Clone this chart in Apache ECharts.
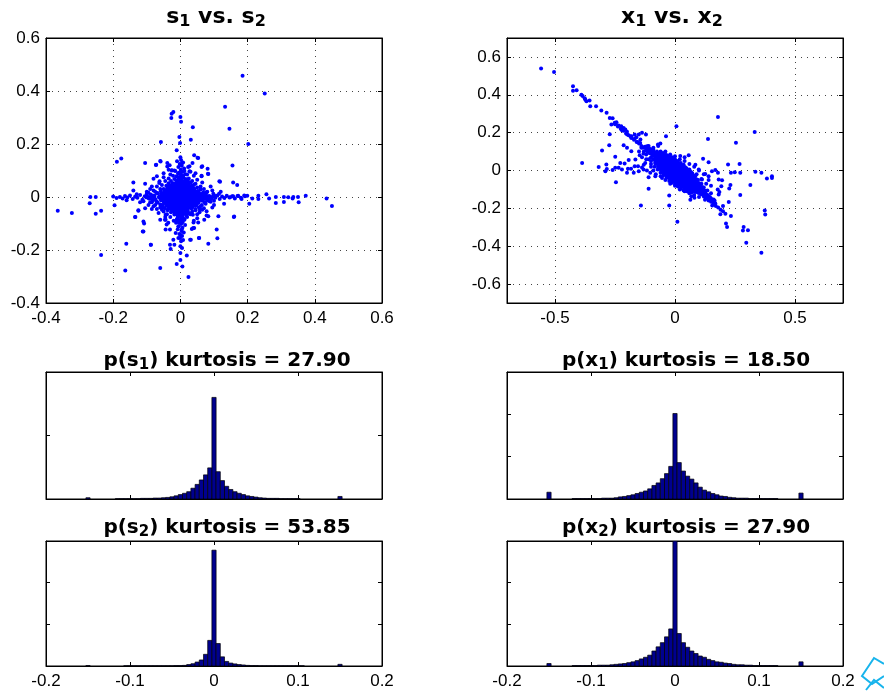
<!DOCTYPE html>
<html>
<head>
<meta charset="utf-8">
<title>ICA sources vs. mixtures</title>
<script src="https://cdn.jsdelivr.net/npm/echarts@6/dist/echarts.min.js"></script>
<style>
  html, body { margin: 0; padding: 0; background: #fff; }
  #chart { width: 884px; height: 692px; }
</style>
</head>
<body>
<div id="chart"></div>
<script>
// ---------- data ----------

// s1 vs. s2 scatter
const s1s2Outliers = [
  [0.185,0.458],[0.251,0.391],[0.133,0.341],[0.146,0.258],[0.202,0.2],[0.155,0.119],[-0.026,0.314],[-0.021,0.321],
  [-0.027,0.298],[0.0,0.302],[0.002,0.284],[0.037,0.263],[0.031,0.216],[-0.058,0.208],[-0.003,0.226],[-0.001,0.204],
  [-0.011,0.176],[0.041,0.158],[0.051,0.148],[-0.189,0.133],[-0.176,0.145],[-0.105,0.128],[-0.073,0.121],[-0.06,0.136],
  [0.065,0.116],[0.081,0.107],[0.082,0.088],[0.116,0.059],[0.157,0.055],[0.169,0.045],[0.063,0.08],[-0.14,0.055],
  [-0.105,0.05],[-0.08,0.069],
  [-0.365,-0.052],[-0.323,-0.06],[-0.268,0],[-0.27,-0.024],[-0.252,0],[-0.252,-0.063],[-0.236,-0.052],[-0.236,-0.219],
  [0.148,-0.001],[0.157,0.003],[0.172,0.005],[0.182,-0.008],[0.192,0.003],[0.199,0.005],[0.214,-0.006],[0.232,0.005],
  [0.232,-0.008],[0.256,0.01],[0.264,-0.006],[0.284,0],[0.284,-0.023],[0.308,0],[0.308,-0.019],[0.321,-0.001],
  [0.334,-0.006],[0.336,0],[0.352,-0.02],[0.35,0],[0.373,0.005],[0.435,-0.006],[0.451,-0.034],[0.205,-0.025],
  [-0.014,-0.136],[-0.018,-0.18],[-0.029,-0.196],[0,-0.186],[0.005,-0.192],[0,-0.211],[0.019,-0.221],[0,-0.238],
  [-0.011,-0.253],[0.006,-0.262],[0.024,-0.302],[-0.06,-0.268],[-0.164,-0.277],[-0.161,-0.176],[-0.088,-0.18],[0.083,-0.176],
  [0.055,-0.155],[0.031,-0.161],[0.108,-0.123],[0.113,-0.073],[0.16,-0.074],[-0.11,-0.13],[-0.108,-0.1],[-0.134,-0.075],
  [-0.125,-0.052],[-0.021,-0.161],[0.034,-0.121],[0.041,-0.117],[-0.044,-0.123],[-0.196,-0.031]
];
const s1s2Core = [
  [-0.01,0.06],[0.002,0.062],[0.012,0.058],
  [-0.022,0.05],[-0.01,0.051],[0.001,0.049],[0.011,0.05],[0.022,0.052],
  [-0.03,0.04],[-0.019,0.041],[-0.008,0.039],[0.003,0.04],[0.014,0.042],[0.025,0.039],[0.034,0.04],
  [-0.038,0.03],[-0.027,0.031],[-0.016,0.029],[-0.005,0.03],[0.006,0.031],[0.017,0.029],[0.028,0.03],[0.039,0.031],
  [-0.045,0.02],[-0.034,0.021],[-0.023,0.019],[-0.012,0.02],[-0.001,0.021],[0.01,0.019],[0.021,0.02],[0.032,0.021],[0.043,0.019],[0.052,0.02],
  [-0.055,0.01],[-0.044,0.011],[-0.033,0.009],[-0.022,0.01],[-0.011,0.011],[0,0.009],[0.011,0.01],[0.022,0.011],[0.033,0.009],[0.044,0.01],[0.055,0.011],[0.064,0.009],
  [-0.062,0],[-0.051,0.001],[-0.04,-0.001],[-0.029,0],[-0.018,0.001],[-0.007,-0.001],[0.004,0],[0.015,0.001],[0.026,-0.001],[0.037,0],[0.048,0.001],[0.059,-0.001],[0.07,0],
  [-0.056,-0.01],[-0.045,-0.009],[-0.034,-0.011],[-0.023,-0.01],[-0.012,-0.009],[-0.001,-0.011],[0.01,-0.01],[0.021,-0.009],[0.032,-0.011],[0.043,-0.01],[0.054,-0.009],[0.065,-0.011],
  [-0.047,-0.02],[-0.036,-0.019],[-0.025,-0.021],[-0.014,-0.02],[-0.003,-0.019],[0.008,-0.021],[0.019,-0.02],[0.03,-0.019],[0.041,-0.021],[0.052,-0.02],
  [-0.04,-0.03],[-0.029,-0.031],[-0.018,-0.029],[-0.007,-0.03],[0.004,-0.031],[0.015,-0.029],[0.026,-0.03],[0.037,-0.031],[0.046,-0.029],
  [-0.033,-0.04],[-0.022,-0.041],[-0.011,-0.039],[0,-0.04],[0.011,-0.041],[0.022,-0.039],[0.033,-0.04],
  [-0.024,-0.05],[-0.013,-0.051],[-0.002,-0.049],[0.009,-0.05],[0.02,-0.051],
  [-0.015,-0.06],[-0.004,-0.061],[0.007,-0.059],[0.016,-0.06],
  [-0.006,-0.07],[0.005,-0.071],
  [-0.004,0.072],[0.006,0.078],[-0.002,0.09],[0.004,-0.082],[-0.003,-0.094],
  [-0.08,0.002],[-0.09,-0.003],[-0.1,0.001],[0.08,0.001],[0.09,-0.002],[0.1,0.003]
];
const s1s2Arms = [
  [-0.2,0.002],[-0.19,-0.004],[-0.18,0],[-0.172,-0.006],[-0.165,0.004],[-0.158,-0.002],[-0.15,0.006],[-0.142,-0.008],
  [-0.135,0.001],[-0.128,-0.003],[-0.12,0.008],[-0.113,-0.01],[-0.106,0.003],[-0.1,0.012],[-0.094,-0.006],[-0.088,0.009],
  [-0.082,-0.012],[-0.077,0.005],[-0.072,-0.015],[-0.067,0.014],[-0.16,-0.012],[-0.13,0.01],[-0.11,-0.016],[-0.095,0.016],
  [-0.085,-0.02],[-0.075,0.02],[-0.07,-0.022],
  [0.075,0.01],[0.08,-0.012],[0.086,0.004],[0.092,-0.006],[0.098,0.012],[0.104,-0.003],[0.11,0.006],[0.117,-0.008],
  [0.124,0.002],[0.131,-0.004],[0.138,0.005],[0.146,-0.002],[0.154,0.003],[0.162,-0.006],[0.17,0.004],[0.18,-0.003],
  [0.19,0.006],[0.078,0.018],[0.09,-0.018],[0.1,-0.014],[0.115,0.012],
  [-0.004,0.07],[0.008,0.074],[-0.012,0.078],[0.003,0.082],[0.014,0.086],[-0.007,0.09],[0.006,0.095],[-0.015,0.098],
  [0.001,0.103],[0.011,0.108],[-0.006,0.113],[0.004,0.118],[-0.002,0.125],[0.008,0.13],[-0.01,0.135],[0.002,0.14],
  [0,0.15],[0.005,0.128],[-0.018,0.1],[0.012,0.098],[0.02,0.085],[-0.022,0.08],[0.016,0.068],
  [0.003,-0.075],[-0.009,-0.08],[0.012,-0.083],[-0.002,-0.088],[0.007,-0.093],[-0.013,-0.097],[0.002,-0.102],[0.014,-0.106],
  [-0.005,-0.11],[0.006,-0.116],[-0.008,-0.122],[0.003,-0.128],[0.01,-0.134],[-0.003,-0.14],[0.005,-0.147],[-0.001,-0.155],
  [0.008,-0.162]
];
const s1s2Spread = [
  [-0.044,-0.067],[-0.044,-0.086],[-0.036,-0.097],[-0.011,-0.086],[0.005,-0.096],[0.012,-0.086],[-0.006,-0.111],[0.004,-0.123],
  [0,-0.142],[-0.006,-0.155],[0.002,-0.167],[0.024,-0.06],[0.037,-0.067],[0.039,-0.096],[0.057,-0.058],[0.065,-0.048],
  [0.07,-0.042],[0.071,-0.086],[0.083,-0.073],[-0.08,-0.035],[-0.07,-0.045],[-0.055,-0.048],[-0.06,-0.086],[-0.041,-0.104],
  [-0.031,-0.123],[-0.039,0.128],[-0.032,0.12],[-0.035,0.103],[-0.026,0.101],[0.027,0.116],[0.027,0.097],[-0.07,0.078],
  [-0.062,0.059],[-0.059,0.134],[-0.072,0.122],[-0.039,0.115],[-0.063,0.053],[0.023,0.113],[0.053,0.147],[0.063,0.113],
  [0.083,0.087],[0.118,0.058],[0.063,0.078],[0.036,0.128],[-0.105,-0.042],[-0.125,-0.05],[-0.135,-0.075],[-0.11,-0.092],
  [-0.112,-0.13],[-0.088,-0.18],[-0.046,-0.086],[0.058,-0.048],[0.078,-0.054],[0.078,-0.07],[0.11,-0.156],[0.159,-0.075],
  [0.053,-0.096],[0.038,-0.117],[0.029,-0.161],[0.056,-0.155],[-0.031,-0.18],
  [-0.06,0.03],[-0.07,0.04],[-0.055,0.045],[-0.045,0.06],[-0.035,0.07],[-0.03,0.085],[-0.05,0.09],[-0.025,0.1],
  [0.025,0.07],[0.035,0.06],[0.045,0.05],[0.06,0.04],[0.07,0.03],[0.08,0.02],[0.05,0.065],[0.04,0.08],
  [0.03,0.095],[-0.08,0.025],[-0.09,-0.02],[-0.075,-0.03],[-0.06,-0.04],[-0.05,-0.055],[-0.04,-0.065],[-0.03,-0.075],
  [-0.02,-0.09],[0.02,-0.075],[0.03,-0.065],[0.045,-0.05],[0.06,-0.035],[0.075,-0.025],[0.085,-0.015],[0.095,0.025],
  [0.05,-0.08],[0.04,-0.09],[-0.065,-0.06],[-0.085,0.04],[0.1,-0.03],[0.065,0.055],[-0.1,0.02],[-0.095,-0.03],
  [-0.07,0.015],[-0.075,-0.008],[-0.068,-0.02],[-0.06,-0.028],[-0.052,-0.036],[-0.05,0.03],[-0.058,0.022],[-0.042,0.042],
  [-0.035,0.052],[-0.028,0.06],[-0.018,0.068],[0.022,0.062],[0.03,0.055],[0.04,0.046],[0.05,0.036],[0.06,0.028],
  [0.068,0.018],[0.075,-0.006],[0.072,-0.02],[0.064,-0.03],[0.055,-0.04],[0.045,-0.045],[0.035,-0.055],[0.026,-0.062],
  [0.018,-0.07],[-0.018,-0.066],[-0.028,-0.058],[-0.038,-0.05],[-0.046,-0.042],[-0.054,-0.03],
  [-0.09,0.03],[-0.085,-0.045],[0.09,0.04],[0.095,-0.04],[-0.05,0.075],[0.045,0.09],[-0.045,-0.075],[0.05,-0.065],
  [0.12,0.02],[-0.12,-0.02],[0.13,-0.025],[-0.14,0.025]
];

// x1 vs. x2 scatter
const x1x2Outliers = [
  [-0.558,0.539],[-0.504,0.521],[-0.425,0.445],[-0.425,0.421],[-0.41,0.424],[-0.39,0.4],[-0.385,0.393],[-0.374,0.375],
  [-0.376,0.382],[-0.369,0.366],[-0.356,0.37],[-0.353,0.34],[-0.329,0.34],[-0.307,0.317],[-0.285,0.305],[-0.272,0.278],
  [-0.26,0.276],[-0.265,0.243],[-0.251,0.252],[-0.244,0.255],[-0.235,0.238],[-0.224,0.234],[-0.214,0.225],[-0.221,0.213],
  [-0.207,0.217],[-0.199,0.19],[-0.182,0.181],[-0.168,0.19],[-0.151,0.19],[-0.1375,0.199],[-0.121,0.19],[-0.161,0.176],
  [-0.144,0.164],
  [-0.272,0.192],[-0.274,0.134],[-0.304,0.106],[-0.387,0.04],[-0.318,0.018],[-0.286,0.032],[-0.29,-0.004],[-0.284,0.008],
  [-0.246,-0.062],[-0.249,0.072],[-0.228,0.04],[-0.214,0.134],[-0.142,-0.185],[-0.11,-0.097],[-0.0375,0.181],[0.006,0.234],
  [-0.024,-0.132],[-0.024,-0.185],[0.01,-0.271],[0.179,0.283],[0.1375,0.167],[0.332,0.204],[0.254,0.146],[0.221,0.032],
  [0.233,-0.012],[0.249,-0.009],[0.269,0.035],[0.272,-0.012],[0.335,-0.007],[0.36,-0.012],[0.383,-0.042],[0.404,-0.039],
  [0.404,-0.03],[0.314,-0.076],[0.272,-0.13],[0.231,-0.076],[0.226,-0.095],[0.224,-0.167],[0.189,-0.231],[0.2125,-0.28],
  [0.217,-0.299],[0.233,-0.241],[0.286,-0.299],[0.283,-0.317],[0.304,-0.315],[0.297,-0.382],[0.36,-0.435],[0.374,-0.211],
  [0.376,-0.232],[-0.096,0.093],[-0.071,0.137],[-0.061,0.143]
];
const x1x2Band = [
  [-0.25,0.245],[-0.238,0.232],[-0.226,0.22],[-0.215,0.21],[-0.204,0.196],[-0.193,0.186],[-0.182,0.172],[-0.171,0.163],
  [-0.16,0.15],[-0.15,0.142],[-0.14,0.13],[-0.13,0.122],[-0.12,0.11],[-0.11,0.1],[-0.1,0.092],[-0.09,0.08],
  [-0.2,0.205],[-0.185,0.18],[-0.168,0.168],[-0.155,0.15],[-0.145,0.145],[-0.135,0.122],[-0.125,0.125],[-0.115,0.1],
  [-0.105,0.105],[-0.095,0.09],[-0.085,0.095],[-0.075,0.075],[-0.07,0.09],[-0.06,0.065],[-0.09,0.06],[-0.1,0.07],
  [0.08,-0.1],[0.09,-0.105],[0.1,-0.118],[0.11,-0.125],[0.12,-0.137],[0.13,-0.145],[0.14,-0.158],[0.15,-0.165],
  [0.16,-0.176],[0.17,-0.188],[0.18,-0.196],[0.19,-0.208],[0.2,-0.215],[0.21,-0.228],[0.135,-0.13],[0.125,-0.155],
  [0.145,-0.14],[0.165,-0.16],[0.155,-0.185]
];
const x1x2Core = [
  [-0.08,0.04],[-0.08,0.055],[-0.08,0.07],[-0.08,0.085],
  [-0.068,0.02],[-0.068,0.035],[-0.068,0.05],[-0.068,0.065],[-0.068,0.08],
  [-0.056,0.005],[-0.056,0.02],[-0.056,0.035],[-0.056,0.05],[-0.056,0.065],[-0.056,0.08],
  [-0.044,-0.01],[-0.044,0.005],[-0.044,0.02],[-0.044,0.035],[-0.044,0.05],[-0.044,0.065],[-0.044,0.08],
  [-0.032,-0.025],[-0.032,-0.01],[-0.032,0.005],[-0.032,0.02],[-0.032,0.035],[-0.032,0.05],[-0.032,0.065],
  [-0.02,-0.04],[-0.02,-0.025],[-0.02,-0.01],[-0.02,0.005],[-0.02,0.02],[-0.02,0.035],[-0.02,0.05],[-0.02,0.065],
  [-0.008,-0.05],[-0.008,-0.035],[-0.008,-0.02],[-0.008,-0.005],[-0.008,0.01],[-0.008,0.025],[-0.008,0.04],[-0.008,0.055],
  [0.004,-0.06],[0.004,-0.045],[0.004,-0.03],[0.004,-0.015],[0.004,0],[0.004,0.015],[0.004,0.03],[0.004,0.045],
  [0.016,-0.07],[0.016,-0.055],[0.016,-0.04],[0.016,-0.025],[0.016,-0.01],[0.016,0.005],[0.016,0.02],[0.016,0.035],
  [0.028,-0.08],[0.028,-0.065],[0.028,-0.05],[0.028,-0.035],[0.028,-0.02],[0.028,-0.005],[0.028,0.01],[0.028,0.025],
  [0.04,-0.09],[0.04,-0.075],[0.04,-0.06],[0.04,-0.045],[0.04,-0.03],[0.04,-0.015],[0.04,0],[0.04,0.015],
  [0.052,-0.095],[0.052,-0.08],[0.052,-0.065],[0.052,-0.05],[0.052,-0.035],[0.052,-0.02],[0.052,-0.005],
  [0.064,-0.1],[0.064,-0.085],[0.064,-0.07],[0.064,-0.055],[0.064,-0.04],[0.064,-0.025],[0.064,-0.01],
  [0.076,-0.105],[0.076,-0.09],[0.076,-0.075],[0.076,-0.06],[0.076,-0.045],[0.076,-0.03],
  [0.088,-0.11],[0.088,-0.095],[0.088,-0.08],[0.088,-0.065],[0.088,-0.05],
  [0.1,-0.115],[0.1,-0.1],[0.1,-0.085],[0.1,-0.07],
  [0.112,-0.12],[0.112,-0.105],[0.112,-0.09],
  [0.124,-0.125],[0.124,-0.11],
  [-0.092,0.085],[-0.092,0.1],[-0.104,0.095],[-0.104,0.11],[-0.116,0.11],[-0.116,0.125],
  [0.136,-0.135],[0.148,-0.15],[0.16,-0.16]
];
const x1x2Spread = [
  [-0.2,0.12],[-0.182,0.102],[-0.193,0.055],[-0.196,0.009],[-0.221,0.005],[-0.235,0.014],[-0.26,0.002],[-0.249,0.014],
  [-0.2,-0.012],[-0.183,0.009],[-0.168,0.023],[-0.154,0.023],[-0.1375,0.016],[-0.124,0.04],[-0.117,0],[-0.11,-0.035],
  [-0.082,-0.03],[-0.054,-0.039],[-0.147,0.081],[-0.1375,0.07],[-0.131,0.09],[-0.165,0.058],[-0.21,0.037],[-0.172,-0.012],
  [-0.151,-0.004],[-0.103,-0.012],[-0.131,0.005],
  [0.022,0.076],[0.04,0.07],[0.057,0.081],[0.117,0.062],[0.14,0.044],[0.085,0.03],[0.064,-0.155],[0.081,-0.144],
  [0.068,-0.136],[0.099,-0.083],[0.126,-0.109],[0.154,-0.004],[0.168,0.002],[0.179,-0.012],[0.182,-0.048],[0.193,-0.083],
  [0.178,-0.1],[0.185,-0.114],[0.182,-0.127],[0.196,-0.051],[0.14,-0.03],[0.1125,-0.048],[0.126,-0.018],[0.099,0.005],
  [0.085,-0.048],[0.161,-0.153],[0.168,-0.174],[0.147,-0.148],[0.2,-0.188],
  [-0.1,0.02],[-0.09,0],[-0.1,0.05],[-0.08,-0.02],[-0.06,-0.03],[-0.04,-0.05],[-0.02,-0.07],[0,-0.08],
  [0.02,-0.1],[0.04,-0.11],[0.06,-0.12],[0.08,-0.13],[0.1,-0.14],[-0.06,0.1],[-0.04,0.1],[-0.02,0.085],
  [0,0.075],[0.02,0.06],[0.04,0.05],[0.06,0.035],[0.08,0.02],[0.1,0],[0.12,-0.02],[0.14,-0.05],
  [0.15,-0.08],[0.13,-0.07],[0.11,-0.045],[0.09,-0.02],[-0.12,0.06],[-0.13,0.03],[-0.15,0.1],[-0.11,0.13],
  [-0.09,0.12],[-0.07,0.13],
  [-0.1,0.035],[-0.11,0.06],[-0.12,0.085],[-0.13,0.1],[-0.14,0.12],[-0.085,0.02],[-0.072,0.005],[-0.06,-0.012],
  [-0.048,-0.025],[-0.036,-0.04],[-0.024,-0.055],[-0.012,-0.065],[0,-0.075],[0.012,-0.085],[0.024,-0.095],[0.036,-0.105],
  [0.05,-0.11],[0.07,-0.115],[-0.09,0.11],[-0.075,0.1],[-0.062,0.095],[-0.05,0.092],[-0.036,0.082],[-0.024,0.078],
  [-0.012,0.07],[0,0.06],[0.012,0.05],[0.024,0.04],[0.036,0.03],[0.048,0.012],[0.06,0.005],[0.072,-0.015],
  [0.084,-0.03],[0.096,-0.05],[0.11,-0.07],[0.12,-0.09],[0.135,-0.105],[0.15,-0.12]
];

// histograms: bin centres and counts
const binCenters = [
  -0.15,-0.145,-0.14,-0.135,-0.13,-0.125,-0.12,-0.115,-0.11,-0.105,-0.1,-0.095,-0.09,-0.085,-0.08,-0.075,
  -0.07,-0.065,-0.06,-0.055,-0.05,-0.045,-0.04,-0.035,-0.03,-0.025,-0.02,-0.015,-0.01,-0.005,0,
  0.005,0.01,0.015,0.02,0.025,0.03,0.035,0.04,0.045,0.05,0.055,0.06,0.065,0.07,0.075,
  0.08,0.085,0.09,0.095,0.1,0.105,0.11,0.115,0.12,0.125,0.13,0.135,0.14,0.145,0.15
];
const BIN_WIDTH = 0.005;
const histS1 = [4,0,0,0,0,0,0,1,1,1,1,1,1,2,2,2,3,3,4,5,7,10,14,18,23,34,46,60,76,98,320,
  86,58,40,30,23,18,14,10,8,6,4,3,2,2,2,1,1,1,1,1,0,0,0,0,0,0,0,0,0,8];
const histX1 = [16,0,0,0,0,0,1,1,1,1,1,1,1,2,2,2,3,5,6,8,10,13,16,19,24,32,38,48,60,77,202,
  86,66,54,47,38,28,21,17,13,10,7,6,4,3,2,2,2,1,1,1,1,1,1,1,0,0,0,0,0,14];
const histS2 = [2,0,0,0,0,0,0,0,0,1,1,1,1,1,1,1,1,1,1,1,1,2,2,3,7,11,19,29,56,123,556,
  108,44,22,14,10,7,5,3,2,2,1,1,1,1,1,1,1,1,1,1,1,0,0,0,0,0,0,0,0,8];
const histX2 = [6,0,0,0,0,0,1,1,1,1,1,1,2,2,2,3,4,5,6,8,10,13,17,21,26,36,46,56,70,89,300,
  78,56,45,36,30,24,21,16,13,10,9,7,6,4,3,3,2,2,1,1,1,1,1,1,0,0,0,0,0,10];

// tick values
const x1x2XTicks = [-0.5, 0, 0.5];
const x1x2YTicks = [-0.6, -0.4, -0.2, 0, 0.2, 0.4, 0.6];

// ---------- chart ----------
const LABEL_FONT = '"Liberation Sans", Arial, sans-serif';
const TITLE_FONT = '"DejaVu Sans", sans-serif';
const DOT_BLUE = '#0000ff';
const BAR_BLUE = '#00008f';

const boxes = [
  { left: 46, top: 38, width: 336, height: 265 },
  { left: 507, top: 38, width: 336, height: 265 },
  { left: 46, top: 372, width: 336, height: 127 },
  { left: 507, top: 372, width: 336, height: 127 },
  { left: 46, top: 541, width: 336, height: 125 },
  { left: 507, top: 541, width: 336, height: 125 }
];

const tick = { show: true, inside: true, length: 4, lineStyle: { color: '#000', width: 1 } };
const line = { show: true, onZero: false, lineStyle: { color: '#000', width: 1 } };
const dotted = { color: '#444', width: 1, type: [1, 5] };

// one pair of axes (bottom/top or left/right) for a grid
function axisPair(dim, gridIndex, opt) {
  const sides = dim === 'x' ? ['bottom', 'top'] : ['left', 'right'];
  return sides.map((pos, i) => {
    const ax = {
      gridIndex, type: 'value', position: pos,
      min: opt.min, max: opt.max,
      axisLine: line,
      axisTick: Object.assign({}, tick),
      axisLabel: {
        show: i === 0 && !!opt.labels, color: '#000', fontSize: 17,
        fontFamily: LABEL_FONT, margin: dim === 'x' ? 7 : 6
      },
      splitLine: { show: i === 0 && !!opt.grid, lineStyle: dotted }
    };
    if (opt.interval) ax.interval = opt.interval;
    if (opt.ticks) {
      ax.axisTick.customValues = opt.ticks;
      ax.axisLabel.customValues = opt.ticks;
    }
    return ax;
  });
}

const xAxis = [].concat(
  axisPair('x', 0, { min: -0.4, max: 0.6, interval: 0.2, labels: true, grid: true }),
  axisPair('x', 1, { min: -0.7, max: 0.7, ticks: x1x2XTicks, labels: true, grid: true }),
  axisPair('x', 2, { min: -0.2, max: 0.2, interval: 0.1 }),
  axisPair('x', 3, { min: -0.2, max: 0.2, interval: 0.1 }),
  axisPair('x', 4, { min: -0.2, max: 0.2, interval: 0.1, labels: true }),
  axisPair('x', 5, { min: -0.2, max: 0.2, interval: 0.1, labels: true })
);
const yAxis = [].concat(
  axisPair('y', 0, { min: -0.4, max: 0.6, interval: 0.2, labels: true, grid: true }),
  axisPair('y', 1, { min: -0.7, max: 0.7, ticks: x1x2YTicks, labels: true, grid: true }),
  axisPair('y', 2, { min: 0, max: 400, interval: 200 }),
  axisPair('y', 3, { min: 0, max: 300, interval: 100 }),
  axisPair('y', 4, { min: 0, max: 600, interval: 200 }),
  axisPair('y', 5, { min: 0, max: 300, interval: 100 })
);

function scatter(gridIndex, data, size) {
  return {
    type: 'scatter', xAxisIndex: gridIndex * 2, yAxisIndex: gridIndex * 2,
    data,
    symbol: 'circle', symbolSize: size,
    itemStyle: { color: DOT_BLUE, opacity: 1 },
    silent: true
  };
}

function histBar(params, api) {
  const h = api.value(1);
  if (!h) return null;
  const c = api.value(0);
  const a = api.coord([c - BIN_WIDTH / 2, h]);
  const b = api.coord([c + BIN_WIDTH / 2, 0]);
  return {
    type: 'rect',
    shape: { x: a[0], y: a[1], width: b[0] - a[0], height: b[1] - a[1] },
    style: { fill: BAR_BLUE, stroke: '#000', lineWidth: 0.7 }
  };
}

function histogram(gridIndex, counts) {
  return {
    type: 'custom', xAxisIndex: gridIndex * 2, yAxisIndex: gridIndex * 2,
    renderItem: histBar,
    encode: { x: 0, y: 1 },
    data: binCenters.map((c, i) => [c, counts[i]]),
    clip: true,
    silent: true
  };
}

// titles with subscripts
function titleText(x, y, parts, big) {
  const main = big ? 22 : 20;
  const sub = big ? 16 : 15;
  return {
    type: 'text', x, y, silent: true,
    style: {
      text: parts,
      align: 'center', verticalAlign: 'top',
      rich: {
        m: { fontFamily: TITLE_FONT, fontWeight: 'bold', fontSize: main, lineHeight: main + 4, fill: '#000' },
        s: { fontFamily: TITLE_FONT, fontWeight: 'bold', fontSize: sub, lineHeight: sub, verticalAlign: 'bottom', fill: '#000' }
      }
    }
  };
}

const option = {
  animation: false,
  backgroundColor: '#fff',
  grid: boxes.map(b => Object.assign({ show: true, borderColor: '#000', borderWidth: 1, backgroundColor: '#fff' }, b)),
  xAxis,
  yAxis,
  series: [
    scatter(0, [].concat(s1s2Spread, s1s2Arms, s1s2Outliers), 4),
    scatter(0, s1s2Core, 5.2),
    scatter(1, [].concat(x1x2Spread, x1x2Band, x1x2Outliers), 4),
    scatter(1, x1x2Core, 5.2),
    histogram(2, histS1),
    histogram(3, histX1),
    histogram(4, histS2),
    histogram(5, histX2)
  ],
  graphic: [
    titleText(216, 4, '{m|s}{s|1}{m| vs. s}{s|2}', true),
    titleText(672, 4, '{m|x}{s|1}{m| vs. x}{s|2}', true),
    titleText(227, 349, '{m|p(s}{s|1}{m|) kurtosis = 27.90}', false),
    titleText(686, 349, '{m|p(x}{s|1}{m|) kurtosis = 18.50}', false),
    titleText(227, 516, '{m|p(s}{s|2}{m|) kurtosis = 53.85}', false),
    titleText(686, 516, '{m|p(x}{s|2}{m|) kurtosis = 27.90}', false),
    {
      type: 'polyline', silent: true,
      shape: { points: [[884, 664], [874, 658], [862, 676], [872, 684], [884, 676]] },
      style: { stroke: '#18b4ec', lineWidth: 2, fill: null }
    },
    {
      type: 'polyline', silent: true,
      shape: { points: [[866, 690], [874, 680], [884, 688]] },
      style: { stroke: '#18b4ec', lineWidth: 2, fill: null }
    }
  ]
};

const chart = echarts.init(document.getElementById('chart'), null, { renderer: 'canvas' });
chart.setOption(option);
</script>
</body>
</html>
